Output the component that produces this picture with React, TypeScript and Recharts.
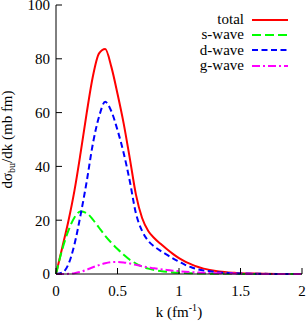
import { Label, Legend, Line, LineChart, XAxis, YAxis } from "recharts";

const kValues = [
  0, 0.05, 0.1, 0.15, 0.2, 0.25, 0.3, 0.35, 0.4, 0.45, 0.5, 0.55, 0.6, 0.65, 0.7, 0.75, 0.8, 0.85,
  0.9, 0.95, 1.0, 1.05, 1.1, 1.15, 1.2, 1.25, 1.3, 1.35, 1.4, 1.45, 1.5, 1.6, 1.7, 1.8, 1.9, 2.0,
];
const sWave = [
  0, 9, 16, 21, 23.2, 22.6, 20.2, 17.2, 14.2, 11.6, 9.3, 7.2, 5.3, 3.9, 2.8, 2.0, 1.5, 1.1, 0.8,
  0.6, 0.45, 0.35, 0.28, 0.22, 0.17, 0.13, 0.1, 0.08, 0.06, 0.05, 0.04, 0.02, 0.01, 0.01, 0, 0,
];
const dWave = [
  0, 0.5, 3.5, 11, 22, 34.5, 48.5, 58.5, 64, 60.5, 53.5, 45, 34.5, 22.5, 16, 12.3, 10.2, 8.6, 7.2,
  5.8, 4.6, 3.4, 2.5, 1.8, 1.3, 1.0, 0.7, 0.5, 0.4, 0.3, 0.2, 0.1, 0.05, 0.02, 0.01, 0,
];
const gWave = [
  0, 0, 0.05, 0.3, 0.8, 1.6, 2.5, 3.3, 4.0, 4.4, 4.5, 4.3, 3.9, 3.4, 2.9, 2.5, 2.1, 1.8, 1.5, 1.25,
  1.05, 0.85, 0.7, 0.57, 0.45, 0.37, 0.3, 0.24, 0.2, 0.15, 0.1, 0.06, 0.03, 0.02, 0.01, 0,
];
const total = [
  0, 9.7, 19.5, 31, 45, 60, 73.5, 82, 83.6, 77, 67, 56, 43, 29.5, 20.8, 16, 13.3, 11.2, 9.3, 7.5,
  5.9, 4.6, 3.6, 2.7, 2.0, 1.5, 1.1, 0.8, 0.6, 0.45, 0.3, 0.15, 0.08, 0.04, 0.02, 0,
];

const xTicks = [0, 0.5, 1, 1.5, 2];
const yTicks = [0, 20, 40, 60, 80, 100];

const data = kValues.map((k, i) => ({
  k,
  total: total[i],
  s: sWave[i],
  d: dWave[i],
  g: gWave[i],
}));

const FONT = '"Liberation Serif", "DejaVu Serif", serif';

// line styles per series (gnuplot-like)
const order = ["total", "s", "d", "g"];
const styles: Record<string, { color: string; dash?: string }> = {
  total: { color: "#ff0000" },
  s: { color: "#00ff00", dash: "9 4" },
  d: { color: "#0000ff", dash: "6 3.5" },
  g: { color: "#ff00ff", dash: "8 3 2 3" },
};

function renderLegend(props: any) {
  const items = [...(props.payload || [])].sort(
    (a: any, b: any) => order.indexOf(a.dataKey) - order.indexOf(b.dataKey)
  );
  return (
    <div style={{ fontFamily: FONT, fontSize: 15, color: "#000" }}>
      {items.map((item: any) => {
        const st = styles[item.dataKey];
        return (
          <div
            key={item.dataKey}
            style={{ display: "flex", alignItems: "center", justifyContent: "flex-end", height: 15.3 }}
          >
            <span style={{ marginRight: 8, lineHeight: "15px" }}>{item.value}</span>
            <svg width={36} height={4}>
              <line x1={0} x2={36} y1={2} y2={2} stroke={st.color} strokeWidth={2} strokeDasharray={st.dash} />
            </svg>
          </div>
        );
      })}
    </div>
  );
}

const tickStyle = { fontSize: 15, fill: "#000", fontFamily: FONT };
const blank = () => "";

export default function App() {
  return (
    <div style={{ position: "absolute", left: 0, top: 0, background: "#fff", fontFamily: FONT }}>
      <LineChart width={307} height={323} data={data} margin={{ top: 5, right: 5, bottom: 0, left: 0 }}>
        <XAxis
          dataKey="k"
          type="number"
          domain={[0, 2]}
          ticks={xTicks}
          height={49}
          tickSize={-6}
          tickMargin={17}
          tick={tickStyle}
          stroke="#000"
          tickLine={{ stroke: "#000" }}
          axisLine={{ stroke: "#000" }}
        >
          <Label
            content={(p: any) => {
              const vb = p.viewBox;
              const cx = vb.x + vb.width / 2;
              return (
                <text x={cx} y={317} textAnchor="middle" fontFamily={FONT} fontSize={15} fill="#000">
                  k (fm
                  <tspan fontSize={10} dy={-6}>-1</tspan>
                  <tspan dy={6}>)</tspan>
                </text>
              );
            }}
          />
        </XAxis>
        <XAxis
          xAxisId="top"
          orientation="top"
          dataKey="k"
          type="number"
          domain={[0, 2]}
          ticks={xTicks}
          height={0}
          tickSize={-6}
          tickFormatter={blank}
          stroke="#000"
        />
        <YAxis
          type="number"
          domain={[0, 100]}
          ticks={yTicks}
          width={56}
          tickSize={-6}
          tickMargin={12}
          tick={tickStyle}
          stroke="#000"
          interval={0}
        >
          <Label
            content={(p: any) => {
              const vb = p.viewBox;
              const cy = vb.y + vb.height / 2;
              const cx = 12;
              return (
                <text
                  x={cx}
                  y={cy}
                  transform={`rotate(-90 ${cx} ${cy})`}
                  textAnchor="middle"
                  fontFamily={FONT}
                  fontSize={15}
                  fill="#000"
                >
                  dσ
                  <tspan fontSize={10} dy={3}>bu</tspan>
                  <tspan dy={-3}>/dk (mb fm)</tspan>
                </text>
              );
            }}
          />
        </YAxis>
        <YAxis
          yAxisId="right"
          orientation="right"
          type="number"
          domain={[0, 100]}
          ticks={yTicks}
          width={0}
          tickSize={-6}
          tickFormatter={blank}
          stroke="#000"
        />
        <Legend
          layout="horizontal"
          verticalAlign="middle"
          align="center"
          wrapperStyle={{ top: 12, left: 150, width: 138, height: 62 }}
          content={renderLegend}
        />
        <Line
          dataKey="total"
          name="total"
          type="monotone"
          stroke={styles.total.color}
          strokeWidth={2}
          dot={false}
          isAnimationActive={false}
        />
        <Line
          dataKey="s"
          name="s-wave"
          type="monotone"
          stroke={styles.s.color}
          strokeDasharray={styles.s.dash}
          strokeWidth={2}
          dot={false}
          isAnimationActive={false}
        />
        <Line
          dataKey="d"
          name="d-wave"
          type="monotone"
          stroke={styles.d.color}
          strokeDasharray={styles.d.dash}
          strokeWidth={2}
          dot={false}
          isAnimationActive={false}
        />
        <Line
          dataKey="g"
          name="g-wave"
          type="monotone"
          stroke={styles.g.color}
          strokeDasharray={styles.g.dash}
          strokeWidth={2}
          dot={false}
          isAnimationActive={false}
        />
      </LineChart>
    </div>
  );
}
